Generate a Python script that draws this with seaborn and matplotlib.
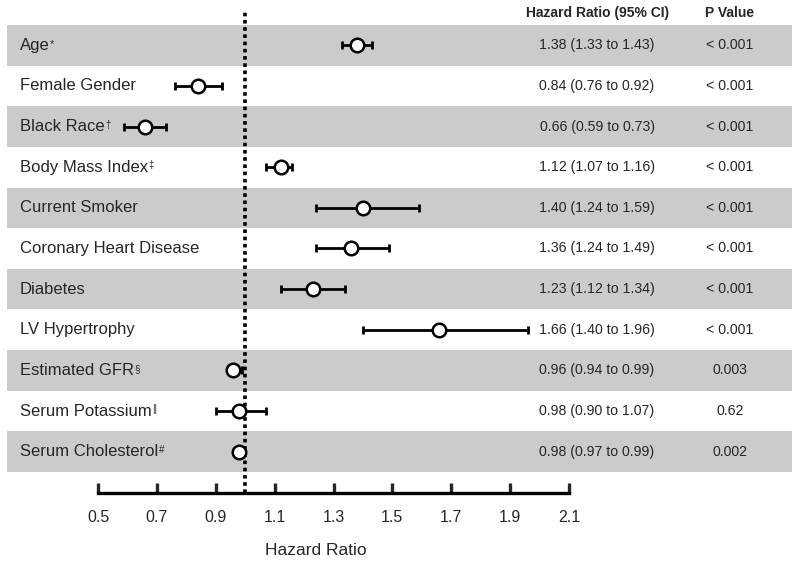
import matplotlib
matplotlib.use("Agg")
import matplotlib.pyplot as plt
import numpy as np
import pandas as pd
import seaborn as sns

labels = ["Age", "Female Gender", "Black Race", "Body Mass Index", "Current Smoker",
          "Coronary Heart Disease", "Diabetes", "LV Hypertrophy", "Estimated GFR",
          "Serum Potassium", "Serum Cholesterol"]
marks = ["*", "", "\u2020", "\u2021", "", "", "", "", "\u00a7", "||", "#"]
hr = [1.38, 0.84, 0.66, 1.12, 1.40, 1.36, 1.23, 1.66, 0.96, 0.98, 0.98]
lo = [1.33, 0.76, 0.59, 1.07, 1.24, 1.24, 1.12, 1.40, 0.94, 0.90, 0.97]
hi = [1.43, 0.92, 0.73, 1.16, 1.59, 1.49, 1.34, 1.96, 0.99, 1.07, 0.99]
pvals = ["< 0.001"] * 8 + ["0.003", "0.62", "0.002"]
xticks = [0.5, 0.7, 0.9, 1.1, 1.3, 1.5, 1.7, 1.9, 2.1]

sns.set_style("white")
plt.rcParams["font.family"] = ["Liberation Sans", "DejaVu Sans"]

df = pd.DataFrame({"label": labels, "hr": hr, "lo": lo, "hi": hi, "row": np.arange(len(labels))})

W, H = 800, 565
fig = plt.figure(figsize=(8, 5.65), dpi=100)
# axes placed in pixel terms: x 98..569, y 10..493
ax = fig.add_axes([98 / W, (H - 493) / H, 471 / W, 483 / H])

row_h = 40.6
ax.set_xlim(0.5, 2.1)
ax.set_ylim(10.5 + 21 / row_h, -0.5 - 15 / row_h)

# grey bands on alternate rows
x0 = (7 - 98) / 471
x1 = (792 - 98) / 471
for i in range(0, len(labels), 2):
    ax.axhspan(i - 0.5, i + 0.5, xmin=x0, xmax=x1, color="#cbcbcb", lw=0, zorder=0, clip_on=False)

ax.axvline(1.0, color="black", ls=(0, (1, 1)), lw=2.6, zorder=1)

ax.errorbar(df["hr"], df["row"], xerr=[df["hr"] - df["lo"], df["hi"] - df["hr"]],
            fmt="none", ecolor="black", elinewidth=2, capsize=3, capthick=2, zorder=2)
sns.scatterplot(data=df, x="hr", y="row", ax=ax, s=95, color="white",
                edgecolor="black", linewidth=1.8, zorder=3, legend=False)

tr = ax.get_yaxis_transform()
lab_x = (20 - 98) / 471
hr_x = (597 - 98) / 471
p_x = (730 - 98) / 471
for i, lab in enumerate(labels):
    t = ax.text(lab_x, i, lab, transform=tr, ha="left", va="center", fontsize=12, clip_on=False)
    if marks[i]:
        ax.annotate(marks[i], xy=(1, 0.95), xycoords=t, ha="left", va="top",
                    fontsize=7 if marks[i] != "*" else 8, xytext=(0.3, 0), textcoords="offset points")
    ax.text(hr_x, i, "%.2f (%.2f to %.2f)" % (hr[i], lo[i], hi[i]), transform=tr,
            ha="center", va="center", fontsize=10.2, clip_on=False)
    ax.text(p_x, i, pvals[i], transform=tr, ha="center", va="center", fontsize=10.2, clip_on=False)

head_y = -0.5 - 12 / row_h
ax.text((598 - 98) / 471, head_y, "Hazard Ratio (95% CI)", transform=tr, ha="center", va="center",
        fontsize=10, fontweight="bold", clip_on=False)
ax.text(p_x, head_y, "P Value", transform=tr, ha="center", va="center",
        fontsize=10, fontweight="bold", clip_on=False)

ax.set_xticks(xticks)
ax.set_xticklabels(["%.1f" % v for v in xticks])
ax.set_yticks([])
ax.set_ylabel("")
ax.set_xlabel("Hazard Ratio", fontsize=12.5)
ax.xaxis.set_label_coords((316 - 98) / 471, -50 / 483)
ax.tick_params(axis="x", direction="in", length=7, width=2.4, pad=12, labelsize=11.5, bottom=True)
for s in ["left", "top", "right"]:
    ax.spines[s].set_visible(False)
ax.spines["bottom"].set_linewidth(2.4)
ax.spines["bottom"].set_color("black")

fig.savefig("out.png", dpi=100)
